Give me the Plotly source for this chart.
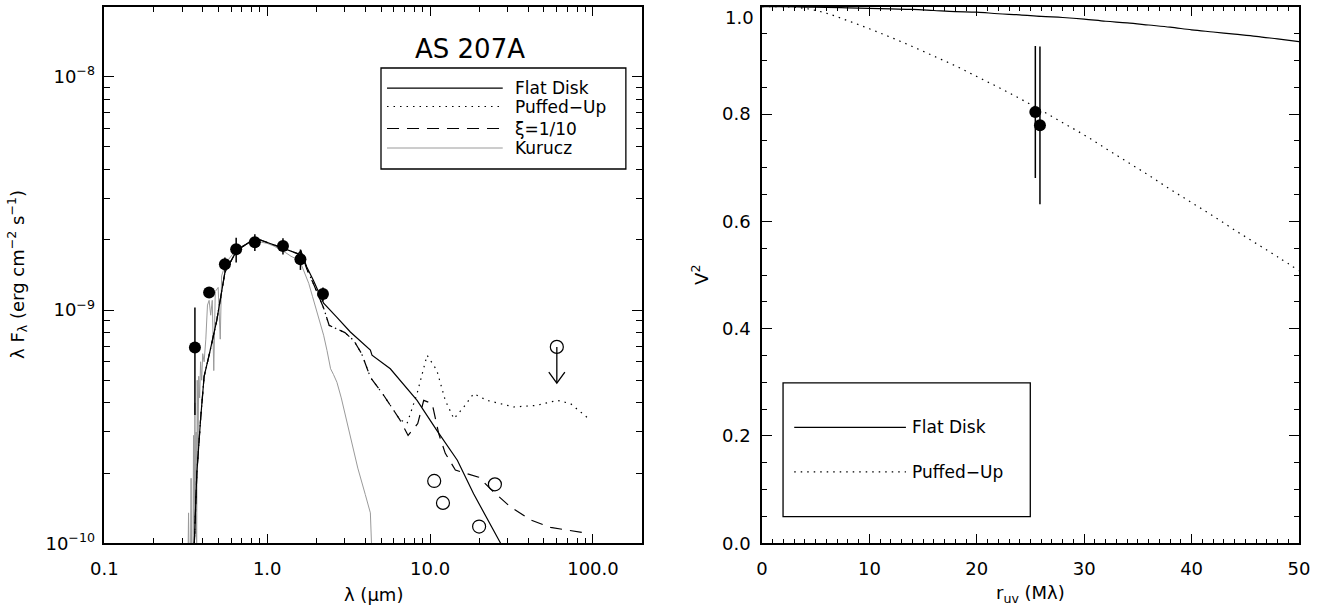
import math
import plotly.graph_objects as go

# ---------------- Left panel: SED of AS 207A ----------------
phot_lam = [0.36, 0.44, 0.55, 0.645, 0.84, 1.25, 1.6, 2.2]
phot_flux = [6.9e-10, 1.19e-9, 1.57e-9, 1.82e-9, 1.95e-9, 1.88e-9, 1.65e-9, 1.17e-9]
phot_err = [3.35e-10, 0.5e-10, 1.1e-10, 2.2e-10, 1.6e-10, 1.5e-10, 1.65e-10, 0.8e-10]

mir_lam = [10.6, 12.0, 20.0, 25.0]
mir_flux = [1.85e-10, 1.49e-10, 1.18e-10, 1.79e-10]

ul_lam = [60.0]
ul_flux = [6.95e-10]
ul_arrow_end = [4.86e-10]

flat_lam = [0.357, 0.37, 0.39, 0.41, 0.44, 0.49, 0.55, 0.65, 0.8, 0.9, 1.2, 1.45,
            1.55, 1.61, 1.75, 1.92, 2.22, 2.68, 3.24, 4.3, 4.4, 5.7, 8.32, 11.0,
            14.7, 18.5, 27.1]
flat_flux = [1.0e-10, 2.0e-10, 3.4e-10, 5.2e-10, 6.4e-10, 9.0e-10, 1.45e-9, 1.8e-9,
             1.98e-9, 2.0e-9, 1.86e-9, 1.77e-9, 1.74e-9, 1.79e-9, 1.53e-9, 1.34e-9,
             1.07e-9, 9.3e-10, 8.05e-10, 6.73e-10, 6.4e-10, 5.6e-10, 4.1e-10, 3.05e-10,
             2.27e-10, 1.63e-10, 1.0e-10]

puff_lam = [0.357, 0.37, 0.39, 0.41, 0.44, 0.49, 0.55, 0.65, 0.8, 0.9, 1.2, 1.45,
            1.55, 1.61, 1.75, 1.92, 2.22, 2.4, 3.0, 3.4, 3.8, 4.3, 5.2, 6.5, 7.22,
            8.32, 9.58, 11.0, 12.4, 14.0, 16.1, 18.5, 22.4, 32.6, 45.0, 60.4, 72.8, 96.6]
puff_flux = [1.0e-10, 2.0e-10, 3.4e-10, 5.2e-10, 6.4e-10, 9.0e-10, 1.45e-9, 1.8e-9,
             1.98e-9, 2.0e-9, 1.86e-9, 1.77e-9, 1.74e-9, 1.79e-9, 1.5e-9, 1.3e-9,
             1.02e-9, 8.6e-10, 8.0e-10, 7.4e-10, 6.5e-10, 5.15e-10, 4.3e-10, 3.4e-10,
             3.26e-10, 4.38e-10, 6.4e-10, 5.52e-10, 4.1e-10, 3.42e-10, 3.84e-10,
             4.38e-10, 4.1e-10, 3.84e-10, 3.9e-10, 4.1e-10, 3.97e-10, 3.37e-10]

xi_lam = [0.357, 0.37, 0.39, 0.41, 0.44, 0.49, 0.55, 0.65, 0.8, 0.9, 1.2, 1.45,
          1.55, 1.61, 1.75, 1.92, 2.22, 2.4, 3.0, 3.4, 3.8, 4.3, 5.2, 6.5, 7.33,
          8.4, 9.14, 10.3, 11.3, 12.4, 14.3, 19.9, 24.6, 31.2, 41.4, 54.9, 87.9]
xi_flux = [1.0e-10, 2.0e-10, 3.4e-10, 5.2e-10, 6.4e-10, 9.0e-10, 1.45e-9, 1.8e-9,
           1.98e-9, 2.0e-9, 1.86e-9, 1.77e-9, 1.74e-9, 1.79e-9, 1.5e-9, 1.3e-9,
           1.02e-9, 8.6e-10, 8.0e-10, 7.4e-10, 6.5e-10, 5.15e-10, 4.3e-10, 3.4e-10,
           2.9e-10, 3.26e-10, 4.1e-10, 3.97e-10, 2.95e-10, 2.43e-10, 2.06e-10,
           1.92e-10, 1.66e-10, 1.43e-10, 1.26e-10, 1.17e-10, 1.11e-10]

kur_lam = [0.326, 0.329, 0.332, 0.338, 0.341, 0.344, 0.350, 0.353, 0.356, 0.360,
           0.363, 0.366, 0.369, 0.372, 0.376, 0.380, 0.385, 0.390, 0.396, 0.402,
           0.41, 0.42, 0.43, 0.44, 0.45, 0.46, 0.47, 0.48, 0.50, 0.515, 0.525,
           0.55, 0.58, 0.62, 0.66, 0.70, 0.75, 0.80, 0.90, 1.0, 1.1, 1.2, 1.3,
           1.4, 1.5, 1.6, 1.7, 1.8, 1.9, 2.0, 2.1, 2.22, 2.33, 2.45, 2.55, 2.68,
           2.85, 3.0, 3.3, 3.6, 4.0, 4.3, 4.42]
kur_flux = [8e-11, 1.35e-10, 8e-11, 8e-11, 1.9e-10, 8e-11, 8e-11, 2.9e-10, 9e-11, 4.0e-10,
            1.1e-10, 3.0e-10, 8e-11, 5.0e-10, 2.5e-10, 5.2e-10, 4.2e-10, 6.0e-10, 5.0e-10, 6.5e-10,
            6.0e-10, 7.5e-10, 1.05e-9, 1.1e-9, 9.5e-10, 1.1e-9, 5.5e-10, 1.2e-9, 1.25e-9, 7.5e-10, 1.4e-9,
            1.55e-9, 1.65e-9, 1.75e-9, 1.82e-9, 1.88e-9, 1.92e-9, 1.95e-9, 1.96e-9, 1.93e-9, 1.88e-9, 1.82e-9, 1.76e-9,
            1.7e-9, 1.66e-9, 1.6e-9, 1.45e-9, 1.3e-9, 1.14e-9, 1.0e-9, 9.0e-10, 7.8e-10, 6.7e-10, 5.6e-10, 5.3e-10, 4.9e-10,
            4.2e-10, 3.6e-10, 2.7e-10, 2.1e-10, 1.62e-10, 1.35e-10, 8e-11]

sed_x_ticks = [0.1, 1.0, 10.0, 100.0]
sed_x_ticktext = ["0.1", "1.0", "10.0", "100.0"]
sed_y_ticks = [1e-10, 1e-9, 1e-8]
sed_y_ticktext = ["10<sup>\u221210</sup>", "10<sup>\u22129</sup>", "10<sup>\u22128</sup>"]
sed_legend_labels = ["Flat Disk", "Puffed\u2212Up", "\u03be=1/10", "Kurucz"]

# ---------------- Right panel: visibilities ----------------
vis_r = [25.45, 25.88]
vis_v2 = [0.804, 0.779]
vis_err = [0.123, 0.147]

model_r = [0, 2, 4, 6, 8, 10, 12, 14, 16, 18, 20, 22, 24, 26, 28, 30, 32, 34,
           36, 38, 40, 42, 44, 46, 48, 50]
flat_v2 = [1.0, 1.0, 0.9995, 0.999, 0.998, 0.997, 0.996, 0.995, 0.993, 0.991, 0.990,
           0.987, 0.985, 0.982, 0.980, 0.977, 0.973, 0.970, 0.966, 0.962, 0.957,
           0.953, 0.949, 0.945, 0.940, 0.935]
puff_v2 = [1.0, 1.0, 0.997, 0.988, 0.974, 0.959, 0.943, 0.926, 0.908, 0.890, 0.870,
           0.850, 0.829, 0.807, 0.784, 0.761, 0.736, 0.711, 0.686, 0.660, 0.635,
           0.610, 0.584, 0.559, 0.534, 0.508]
vis_x_ticks = [0, 10, 20, 30, 40, 50]
vis_y_ticks = [0.0, 0.2, 0.4, 0.6, 0.8, 1.0]
vis_y_ticktext = ["0.0", "0.2", "0.4", "0.6", "0.8", "1.0"]
vis_legend_labels = ["Flat Disk", "Puffed\u2212Up"]

FONT = "DejaVu Sans"
DOT = "1.5px,5px"
DASH = "12px,8px"
GRAY = "#9a9a9a"

fig = go.Figure()

# SED traces
fig.add_trace(go.Scatter(x=kur_lam, y=kur_flux, mode="lines",
                         line=dict(color=GRAY, width=1), xaxis="x", yaxis="y"))
fig.add_trace(go.Scatter(x=flat_lam, y=flat_flux, mode="lines",
                         line=dict(color="black", width=1.2), xaxis="x", yaxis="y"))
fig.add_trace(go.Scatter(x=puff_lam, y=puff_flux, mode="lines",
                         line=dict(color="black", width=1.2, dash=DOT), xaxis="x", yaxis="y"))
fig.add_trace(go.Scatter(x=xi_lam, y=xi_flux, mode="lines",
                         line=dict(color="black", width=1.2, dash=DASH), xaxis="x", yaxis="y"))
fig.add_trace(go.Scatter(x=phot_lam, y=phot_flux, mode="markers",
                         marker=dict(color="black", size=12),
                         error_y=dict(type="data", array=phot_err, visible=True,
                                      thickness=1.5, width=0, color="black"),
                         xaxis="x", yaxis="y"))
fig.add_trace(go.Scatter(x=mir_lam, y=mir_flux, mode="markers",
                         marker=dict(color="rgba(0,0,0,0)", size=13,
                                     line=dict(color="black", width=1.2)),
                         xaxis="x", yaxis="y"))
# upper limit: open circle with downward arrow
fig.add_trace(go.Scatter(x=ul_lam, y=ul_flux, mode="markers",
                         marker=dict(color="rgba(0,0,0,0)", size=13,
                                     line=dict(color="black", width=1.2)),
                         xaxis="x", yaxis="y"))
for lam, f0, f1 in zip(ul_lam, ul_flux, ul_arrow_end):
    fig.add_trace(go.Scatter(x=[lam, lam], y=[f0, f1], mode="lines",
                             line=dict(color="black", width=1.3), xaxis="x", yaxis="y"))
    fig.add_trace(go.Scatter(x=[lam / 1.12, lam, lam * 1.12], y=[f1 * 1.115, f1, f1 * 1.115],
                             mode="lines", line=dict(color="black", width=1.3),
                             xaxis="x", yaxis="y"))

# Visibility traces
fig.add_trace(go.Scatter(x=model_r, y=flat_v2, mode="lines",
                         line=dict(color="black", width=1.2, shape="spline"),
                         xaxis="x2", yaxis="y2"))
fig.add_trace(go.Scatter(x=model_r, y=puff_v2, mode="lines",
                         line=dict(color="black", width=1.2, dash=DOT, shape="spline"),
                         xaxis="x2", yaxis="y2"))
fig.add_trace(go.Scatter(x=vis_r, y=vis_v2, mode="markers",
                         marker=dict(color="black", size=12),
                         error_y=dict(type="data", array=vis_err, visible=True,
                                      thickness=1.5, width=0, color="black"),
                         xaxis="x2", yaxis="y2"))

XL = [104.3 / 1321, 642.0 / 1321]
XR = [762.0 / 1321, 1299.0 / 1321]
YD = [(606 - 543.3) / 606, (606 - 6.5) / 606]

axis_common = dict(showline=True, linecolor="black", linewidth=1.5, mirror="ticks",
                   ticks="inside", ticklen=10, tickwidth=1, tickcolor="black",
                   showgrid=False, zeroline=False, automargin=False,
                   ticklabeloverflow="allow",
                   tickfont=dict(family=FONT, size=18, color="black"))

# the top label "1.0" sits just inside the frame, as in the original; drawn as annotation
vis_y_ticktext_axis = vis_y_ticktext[:-1] + [""]

fig.update_layout(
    width=1321, height=606,
    margin=dict(l=0, r=0, t=0, b=0, pad=0),
    paper_bgcolor="white", plot_bgcolor="white",
    showlegend=False,
    font=dict(family=FONT, color="black"),
    xaxis=dict(type="log", domain=XL, range=[-1, math.log10(200)], anchor="y",
               tickvals=sed_x_ticks, ticktext=sed_x_ticktext, ticklabelstandoff=8,
               minor=dict(ticks="inside", ticklen=6, tickcolor="black", tickwidth=1,
                          tickvals=[k * 10 ** d for d in range(-1, 3) for k in range(2, 10)]),
               **axis_common),
    yaxis=dict(type="log", domain=YD, range=[-10, math.log10(2e-8)], anchor="x",
               tickvals=sed_y_ticks, ticktext=sed_y_ticktext, ticklabelstandoff=4,
               minor=dict(ticks="inside", ticklen=6, tickcolor="black", tickwidth=1,
                          tickvals=[k * 10 ** d for d in range(-10, -7) for k in range(2, 10)]),
               **axis_common),
    xaxis2=dict(domain=XR, range=[0, 50], anchor="y2", tickvals=vis_x_ticks,
                ticklabelstandoff=8,
                minor=dict(ticks="inside", ticklen=5, dtick=1, tickcolor="black", tickwidth=1),
                **axis_common),
    yaxis2=dict(domain=YD, range=[0, 1.0005], anchor="x2", tickvals=vis_y_ticks,
                ticktext=vis_y_ticktext_axis, ticklabelstandoff=6,
                minor=dict(ticks="inside", ticklen=5, dtick=0.05, tickcolor="black", tickwidth=1),
                **axis_common),
)

# ---- Left legend box, title, and samples ----
shapes = []
annotations = []
shapes.append(dict(type="rect", xref="x domain", yref="y domain",
                   x0=0.5146, x1=0.970, y0=0.6973, y1=0.8854,
                   line=dict(color="black", width=1.3), fillcolor="rgba(0,0,0,0)"))
leg_rows = [0.848, 0.8137, 0.7727, 0.7364]
leg_styles = [dict(color="black", width=1.2), dict(color="black", width=1.2, dash=DOT),
              dict(color="black", width=1.2, dash=DASH), dict(color=GRAY, width=1)]
for yrow, style, lab in zip(leg_rows, leg_styles, sed_legend_labels):
    shapes.append(dict(type="line", xref="x domain", yref="y domain",
                       x0=0.5258, x1=0.741, y0=yrow, y1=yrow, line=style))
    annotations.append(dict(xref="x domain", yref="y domain", x=0.760, y=yrow,
                            text=lab, showarrow=False, xanchor="left", yanchor="middle",
                            font=dict(family=FONT, size=17, color="black")))
annotations.append(dict(xref="x domain", yref="y domain", x=0.680, y=0.921,
                        text="AS 207A", showarrow=False, xanchor="center", yanchor="middle",
                        font=dict(family=FONT, size=26, color="black")))

# ---- Right legend box ----
shapes.append(dict(type="rect", xref="x2", yref="y2", x0=1.96, x1=24.98, y0=0.0497, y1=0.299,
                   line=dict(color="black", width=1.3), fillcolor="rgba(0,0,0,0)"))
vleg_rows = [0.216, 0.133]
vleg_styles = [dict(color="black", width=1.2), dict(color="black", width=1.2, dash=DOT)]
for yrow, style, lab in zip(vleg_rows, vleg_styles, vis_legend_labels):
    shapes.append(dict(type="line", xref="x2", yref="y2", x0=3.0, x1=13.4, y0=yrow, y1=yrow,
                       line=style))
    annotations.append(dict(xref="x2", yref="y2", x=13.8, y=yrow, text=lab, showarrow=False,
                            xanchor="left", yanchor="middle",
                            font=dict(family=FONT, size=17, color="black")))

# top tick label of the V^2 axis
annotations.append(dict(xref="paper", yref="y2", x=XR[0], y=vis_y_ticks[-1],
                        text=vis_y_ticktext[-1], showarrow=False, xanchor="right",
                        yanchor="top", xshift=-6, yshift=2,
                        font=dict(family=FONT, size=18, color="black")))

# ---- Axis titles ----
annotations.append(dict(xref="paper", yref="paper", x=(XL[0] + XL[1]) / 2, y=(606 - 594) / 606,
                        text="\u03bb (\u03bcm)", showarrow=False, xanchor="center",
                        yanchor="middle", font=dict(family=FONT, size=18, color="black")))
annotations.append(dict(xref="paper", yref="paper", x=17 / 1321, y=(YD[0] + YD[1]) / 2,
                        text="\u03bb F<sub>\u03bb</sub> (erg cm<sup>\u22122</sup> s<sup>\u22121</sup>)",
                        textangle=-90, showarrow=False, xanchor="center", yanchor="middle",
                        font=dict(family=FONT, size=18, color="black")))
annotations.append(dict(xref="paper", yref="paper", x=(XR[0] + XR[1]) / 2, y=(606 - 594) / 606,
                        text="r<sub>uv</sub> (M\u03bb)", showarrow=False, xanchor="center",
                        yanchor="middle", font=dict(family=FONT, size=18, color="black")))
annotations.append(dict(xref="paper", yref="paper", x=700 / 1321, y=(YD[0] + YD[1]) / 2,
                        text="V<sup>2</sup>", textangle=-90, showarrow=False,
                        xanchor="center", yanchor="middle",
                        font=dict(family=FONT, size=18, color="black")))

fig.update_layout(shapes=shapes, annotations=annotations)
fig.write_html("out.html", config={"displayModeBar": False},
               post_script="document.body.style.margin='0';document.body.style.overflow='hidden';")
